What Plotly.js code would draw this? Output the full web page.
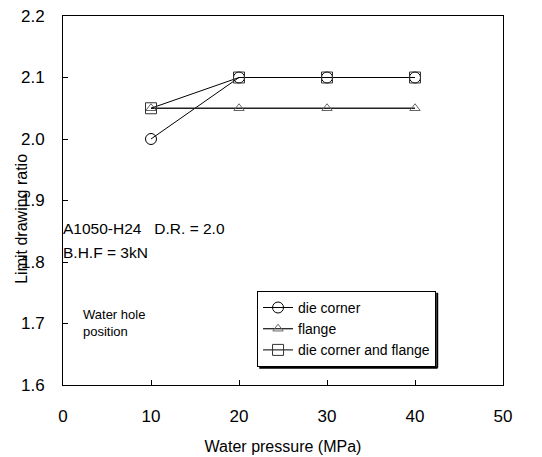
<!DOCTYPE html>
<html>
<head>
<meta charset="utf-8">
<script src="https://cdn.plot.ly/plotly-3.0.1.min.js"></script>
<style>html,body{margin:0;padding:0;background:#fff;}#chart{width:542px;height:457px;}</style>
</head>
<body>
<div id="chart"></div>
<script>
var pressure = [10, 20, 30, 40];
var dieCorner = [2.0, 2.1, 2.1, 2.1];
var flange = [2.05, 2.05, 2.05, 2.05];
var dieCornerFlange = [2.05, 2.1, 2.1, 2.1];
var seriesNames = ["die corner", "flange", "die corner and flange"];
var xTicks = [0, 10, 20, 30, 40, 50];
var yTicks = [1.6, 1.7, 1.8, 1.9, 2.0, 2.1, 2.2];
var yTickText = ["1.6", "1.7", "1.8", "1.9", "2.0", "2.1", "2.2"];

var sans = "Liberation Sans, Arial, sans-serif";

var traces = [
  {x: pressure, y: dieCorner, name: seriesNames[0], mode: "lines+markers",
   line: {color: "#000", width: 1},
   marker: {symbol: "circle-open", size: 11, color: "#000", line: {width: 1, color: "#000"}}},
  {x: pressure, y: flange, name: seriesNames[1], mode: "lines+markers",
   line: {color: "#222", width: 1.3},
   marker: {symbol: "triangle-up-open", size: 9, color: "#666", line: {width: 1, color: "#666"}}},
  {x: pressure, y: dieCornerFlange, name: seriesNames[2], mode: "lines+markers",
   line: {color: "#000", width: 1},
   marker: {symbol: "square-open", size: 11, color: "#333", line: {width: 1, color: "#333"}}}
];

var layout = {
  width: 542, height: 457,
  margin: {l: 63, r: 39, t: 16, b: 72},
  paper_bgcolor: "#fff", plot_bgcolor: "#fff",
  showlegend: true,
  legend: {x: 0.441, y: 0.255, xanchor: "left", yanchor: "top",
           bordercolor: "#000", borderwidth: 1, bgcolor: "#fff",
           font: {family: sans, size: 14, color: "#000"},
           tracegroupgap: 0, itemwidth: 30},
  xaxis: {range: [0, 50], tickvals: xTicks, ticktext: xTicks.map(String),
          ticks: "inside", ticklen: 5, tickcolor: "#000",
          showgrid: false, zeroline: false, showline: true, mirror: true,
          linecolor: "#000", linewidth: 1,
          tickfont: {family: sans, size: 17, color: "#000"},
          ticklabelstandoff: 16,
          title: {text: "Water pressure (MPa)", font: {family: sans, size: 16, color: "#000"}, standoff: 15}},
  yaxis: {range: [1.6, 2.2], tickvals: yTicks, ticktext: yTickText,
          ticks: "inside", ticklen: 5, tickcolor: "#000",
          showgrid: false, zeroline: false, showline: true, mirror: true,
          linecolor: "#000", linewidth: 1,
          tickfont: {family: sans, size: 17, color: "#000"},
          ticklabelstandoff: 14},
  shapes: [
    {type: "line", xref: "paper", yref: "paper", x0: 0.8505, x1: 0.8505, y0: 0.047, y1: 0.25,
     line: {color: "#000", width: 2}},
    {type: "line", xref: "paper", yref: "paper", x0: 0.446, x1: 0.8515, y0: 0.047, y1: 0.047,
     line: {color: "#000", width: 2}}
  ],
  annotations: [
    {xref: "paper", yref: "paper", x: -0.095, y: 0.451, xanchor: "center", yanchor: "middle",
     text: "Limit drawing ratio", textangle: -90, showarrow: false,
     font: {family: sans, size: 16, color: "#000"}},
    {xref: "paper", yref: "paper", x: -0.005, y: 0.425, xanchor: "left", yanchor: "middle",
     text: "A1050-H24   D.R. = 2.0", showarrow: false, font: {family: sans, size: 15.5, color: "#000"}},
    {xref: "paper", yref: "paper", x: -0.005, y: 0.36, xanchor: "left", yanchor: "middle",
     text: "B.H.F = 3kN", showarrow: false, font: {family: sans, size: 15.5, color: "#000"}},
    {xref: "paper", yref: "paper", x: 0.042, y: 0.168, xanchor: "left", yanchor: "middle",
     text: "Water hole<br>position", align: "left", showarrow: false,
     font: {family: sans, size: 13, color: "#000"}}
  ]
};

Plotly.newPlot("chart", traces, layout, {displayModeBar: false, staticPlot: true});
</script>
</body>
</html>
